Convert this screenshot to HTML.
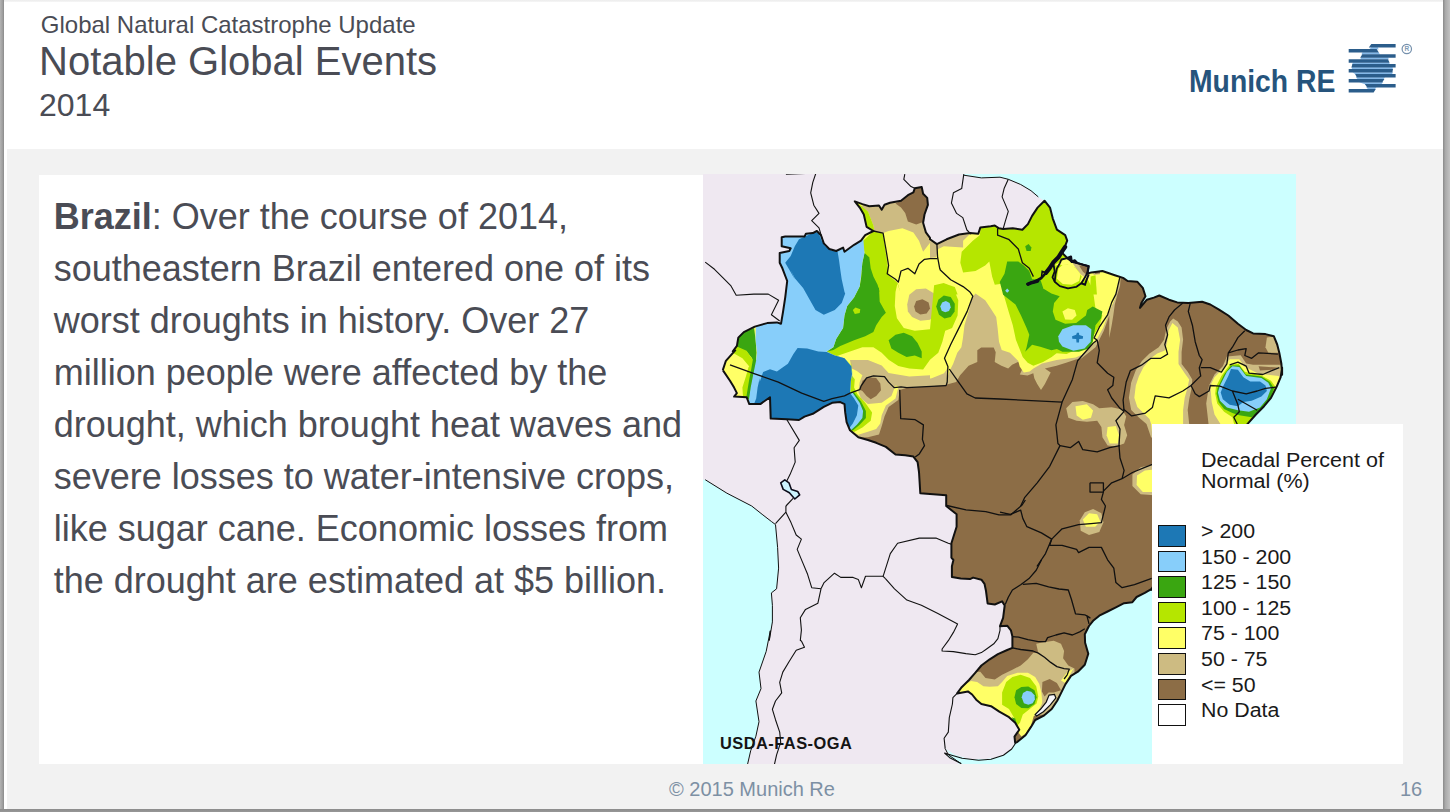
<!DOCTYPE html>
<html><head><meta charset="utf-8"><title>Notable Global Events</title>
<style>
html,body{margin:0;padding:0}
body{width:1450px;height:812px;overflow:hidden;position:relative;background:#fff;font-family:"Liberation Sans",sans-serif;color:#4a4c55}
.abs{position:absolute}
#edgeL{left:0;top:0;width:4px;height:812px;background:linear-gradient(90deg,#b4b4b4,#9c9c9c 70%,#8a8a8a)}
#edgeR{left:1443px;top:0;width:7px;height:812px;background:linear-gradient(90deg,#8a8a8a,#aaa 35%,#c2c2c2)}
#edgeB{left:0;top:809px;width:1450px;height:3px;background:linear-gradient(180deg,#8c8c8c,#979797)}
#edgeT{left:4px;top:0;width:1439px;height:2px;background:linear-gradient(180deg,#ececec,#f6f6f6)}
#panel{left:7px;top:149px;width:1435.5px;height:659.6px;background:#f2f2f2}
#t1{left:40.8px;top:10.7px;font-size:24px;line-height:28px;white-space:nowrap}
#t2{left:39.1px;top:38px;font-size:40px;line-height:46px;white-space:nowrap}
#t3{left:39px;top:86.5px;font-size:32px;line-height:36px;white-space:nowrap}
#box{left:39px;top:175px;width:664px;height:589px;background:#fff}
#body{left:53.7px;top:191px;width:650px;font-size:36px;line-height:52px;white-space:nowrap}
#map{left:703px;top:174px;width:593px;height:590px;overflow:hidden;background:#efe8f1}
#legend{left:1151.5px;top:424px;width:251.5px;height:340px;background:#fff;color:#1a1a1a}
#legend .ttl{position:absolute;left:49.5px;top:25.8px;font-size:19.5px;line-height:21.2px;white-space:nowrap;transform-origin:0 0;transform:scaleX(1.103)}
#legend .sw{position:absolute;left:6px;width:26px;height:19.5px;border:1.3px solid #111}
#legend .lb{position:absolute;left:49.5px;font-size:19.5px;line-height:22px;white-space:nowrap;transform-origin:0 0;transform:scaleX(1.095)}
#foot{left:669px;top:777px;font-size:20px;line-height:24px;color:#7d90a4;white-space:nowrap}
#pg{left:1400px;top:777px;font-size:20px;line-height:24px;color:#7d90a4;white-space:nowrap}
#logo{left:1188.8px;top:64.3px;font-size:31.3px;line-height:36px;font-weight:bold;color:#26547c;white-space:nowrap;transform-origin:0 0;transform:scaleX(.905)}
</style></head><body>
<div class="abs" id="panel"></div>
<div class="abs" id="edgeT"></div>
<div class="abs" id="edgeL"></div>
<div class="abs" id="edgeR"></div>
<div class="abs" id="edgeB"></div>
<div class="abs" id="t1">Global Natural Catastrophe Update</div>
<div class="abs" id="t2">Notable Global Events</div>
<div class="abs" id="t3">2014</div>
<div class="abs" id="logo">Munich RE</div>
<svg class="abs" style="left:1340px;top:36px" width="80" height="64" viewBox="0 0 80 64">
<defs><clipPath id="lc"><circle cx="32.3" cy="32.3" r="24.2"/></clipPath></defs>
<g fill="#84b8e8">
<path d="M31.5 11.2H37.8L38.6 13.4H29z"/>
<path d="M22.5 16.3H38.6L40 18.6H21.3z"/>
<path d="M21.3 21.5H48L48.9 23.5H20z"/>
<path d="M13 26.4H48.9L50 28.4H11.8z"/>
<path d="M11.8 31.3H52.6L52.8 33.4H11.8z"/>
<path d="M12.4 36.3H52.8L52 38.4H15.8z"/>
<path d="M15.8 41.3H45L43.3 43.4H18z"/>
<path d="M19 46.3H43.3L41 48.4H26z"/>
<path d="M26 51.3H36.5L34.7 53.4H28.5z"/>
</g>
<g fill="#2b5d8b">
<path d="M31.3 8.1H55.6V11.6H28.8z"/>
<path d="M8.7 13.1H36.6L38.8 16.6H8.7z"/>
<path d="M22.3 18.3H55.6V21.8H20.2z"/>
<path d="M8.7 23.2H48L49.6 26.7H8.7z"/>
<path d="M12.4 28.1H55.6V31.6H11.4z"/>
<path d="M8.7 33.1H53L52.4 36.6H8.7z"/>
<path d="M15.2 38.1H55.6V41.6H16.8z"/>
<path d="M8.7 43.1H44.4L42.2 46.6H8.7z"/>
<path d="M24.8 48.1H55.6V51.6H27.2z"/>
<path d="M8.7 53.1H35.8L33.6 56.6H8.7z"/>
</g>
<circle cx="66.8" cy="13" r="4.7" fill="none" stroke="#7590ac" stroke-width="1.2"/>
<text x="66.8" y="15.4" font-size="6.5" font-weight="bold" text-anchor="middle" fill="#7f9bb5" font-family="Liberation Sans, sans-serif">R</text>
</svg>
<div class="abs" id="box"></div>
<div class="abs" id="body"><b>Brazil</b>: Over the course of 2014,<br>southeastern Brazil entered one of its<br>worst droughts in history. Over 27<br>million people were affected by the<br>drought, which brought heat waves and<br>severe losses to water-intensive crops,<br>like sugar cane. Economic losses from<br>the drought are estimated at $5 billion.</div>
<div class="abs" id="map"><svg width="593" height="590" viewBox="0 0 593 590" style="display:block">
<defs><clipPath id="brc"><path d="M19.8 196.1 L22.9 186.8 L32.2 176.4 L29.8 177.4 L33.9 171.9 L35.3 163.6 L40.8 158.1 L51.8 152.6 L64.2 149.1 L73.9 148.4 L78.0 149.8 L80.1 137.4 L82.2 123.6 L84.2 107.0 L79.4 94.3 L76.7 88.8 L76.7 79.1 L86.3 77.0 L87.7 74.3 L78.7 72.2 L78.7 63.2 L82.2 62.6 L101.5 62.6 L102.9 59.8 L109.8 59.1 L113.9 57.0 L118.0 61.2 L120.8 69.4 L126.3 75.0 L133.2 77.0 L140.1 73.6 L141.5 77.7 L151.1 70.8 L158.0 66.7 L162.2 61.2 L170.4 57.0 L163.6 52.9 L160.8 40.5 L156.7 33.6 L151.8 27.4 L159.4 30.1 L166.3 32.2 L176.0 31.5 L178.7 35.7 L181.5 30.8 L187.0 28.8 L198.0 26.7 L204.9 21.2 L210.4 18.4 L211.8 14.3 L218.7 12.9 L220.1 19.8 L224.2 23.9 L224.9 30.8 L221.5 40.5 L220.1 48.8 L222.9 58.4 L227.0 63.9 L227.0 65.3 L233.9 70.1 L243.6 65.3 L256.0 60.5 L267.0 59.1 L275.3 59.8 L277.3 53.6 L287.7 52.2 L291.8 51.5 L296.0 54.3 L300.1 55.0 L309.8 54.3 L319.4 55.7 L324.9 50.1 L329.1 41.9 L334.6 33.6 L341.5 26.7 L347.0 33.6 L349.8 44.6 L353.9 55.7 L362.2 61.2 L364.2 66.7 L359.4 79.1 L364.9 84.6 L373.2 88.8 L385.6 92.2 L384.2 99.8 L388.4 98.4 L399.4 97.0 L411.8 101.2 L420.1 103.9 L424.6 107.0 L434.2 107.7 L439.8 113.9 L442.5 122.2 L438.4 129.1 L437.0 133.9 L443.9 125.7 L450.8 123.6 L456.3 121.5 L466.0 125.7 L474.2 128.4 L485.3 129.1 L499.1 127.7 L507.3 130.5 L515.6 135.3 L525.3 141.5 L534.9 149.8 L543.2 156.0 L550.1 159.4 L562.5 160.1 L570.8 162.2 L574.2 170.5 L576.3 178.8 L578.4 189.8 L579.1 200.8 L579.1 193.6 L577.7 203.2 L573.6 212.9 L568.0 223.9 L561.1 232.2 L552.9 240.5 L544.6 249.9 L512.0 296.0 L477.0 366.0 L448.0 416.0 L448.7 414.8 L441.8 418.9 L433.6 423.0 L429.4 428.2 L421.1 429.2 L412.9 433.4 L404.6 437.5 L396.3 441.7 L390.1 446.8 L386.0 452.0 L381.8 460.3 L382.1 468.8 L385.3 479.8 L381.8 490.8 L374.9 497.7 L368.0 501.9 L362.5 510.1 L358.4 518.4 L354.2 526.7 L348.7 535.0 L340.4 541.9 L332.2 546.0 L328.0 552.9 L322.5 561.2 L314.2 568.1 L312.2 568.8 L311.5 562.6 L316.3 555.7 L312.2 548.8 L306.0 543.2 L296.3 537.7 L288.0 532.2 L278.4 530.0 L273.2 525.7 L269.1 520.5 L264.9 517.4 L254.1 519.4 L258.7 513.2 L266.0 506.0 L272.2 498.8 L278.4 491.5 L286.7 485.3 L294.9 480.1 L304.2 476.0 L309.4 473.9 L309.4 462.6 L307.9 456.3 L304.2 451.7 L297.0 452.2 L300.1 443.9 L301.7 431.5 L299.1 427.4 L291.8 430.5 L284.6 429.4 L283.0 417.0 L281.5 409.8 L278.4 405.7 L270.1 403.6 L267.0 405.1 L257.7 404.6 L248.9 403.1 L248.9 392.2 L250.4 386.0 L248.4 383.7 L248.4 369.2 L253.6 352.7 L253.6 340.3 L243.2 332.0 L243.2 321.2 L217.3 319.2 L216.0 298.0 L214.6 288.1 L210.4 282.6 L202.2 281.2 L192.5 280.5 L182.9 272.9 L173.2 268.8 L164.9 266.0 L155.3 263.2 L147.0 256.3 L143.6 248.1 L142.2 238.4 L141.5 230.1 L137.3 228.1 L129.1 228.8 L120.8 232.9 L109.8 239.8 L101.5 242.6 L96.0 246.0 L83.6 245.3 L67.7 244.6 L67.0 223.2 L57.3 230.1 L46.3 230.1 L43.6 223.2 L31.1 222.6 L33.9 219.1 L31.1 213.6 L27.0 206.7 Z"/></clipPath></defs>
<rect width="593" height="590" fill="#efe8f1"/>
<path d="M260.8 -1.0 L260.8 0.5 L260.8 1.2 L278.4 3.9 L297.0 3.2 L305.3 5.3 L317.7 10.5 L328.0 16.7 L335.3 22.9 L341.5 26.7 L347.0 33.6 L349.8 44.6 L353.9 55.7 L362.2 61.2 L364.2 66.7 L359.4 79.1 L364.9 84.6 L373.2 88.8 L385.6 92.2 L384.2 99.8 L388.4 98.4 L399.4 97.0 L411.8 101.2 L420.1 103.9 L424.6 107.0 L434.2 107.7 L439.8 113.9 L442.5 122.2 L438.4 129.1 L437.0 133.9 L443.9 125.7 L450.8 123.6 L456.3 121.5 L466.0 125.7 L474.2 128.4 L485.3 129.1 L499.1 127.7 L507.3 130.5 L515.6 135.3 L525.3 141.5 L534.9 149.8 L543.2 156.0 L550.1 159.4 L562.5 160.1 L570.8 162.2 L574.2 170.5 L576.3 178.8 L578.4 189.8 L579.1 200.8 L579.1 193.6 L577.7 203.2 L573.6 212.9 L568.0 223.9 L561.1 232.2 L552.9 240.5 L544.6 249.9 L512.0 296.0 L477.0 366.0 L448.0 416.0 L448.7 414.8 L441.8 418.9 L433.6 423.0 L429.4 428.2 L421.1 429.2 L412.9 433.4 L404.6 437.5 L396.3 441.7 L390.1 446.8 L386.0 452.0 L381.8 460.3 L382.1 468.8 L385.3 479.8 L381.8 490.8 L374.9 497.7 L368.0 501.9 L362.5 510.1 L358.4 518.4 L354.2 526.7 L348.7 535.0 L340.4 541.9 L332.2 546.0 L328.0 552.9 L322.5 561.2 L314.2 568.1 L312.2 568.8 L307.7 576.0 L300.4 581.2 L288.0 585.3 L275.6 586.3 L259.1 584.3 L248.7 581.2 L241.5 579.1 L246.7 583.7 L258.0 589.4 L258.0 591.0 L597.0 591.0 L597.0 -1.0 Z" fill="#ccffff"/>
<path d="M2.2 305.7 L23.9 319.2 L48.7 332.0 L48.7 332.0 L59.1 340.3 L68.4 347.5 L72.5 350.6 L74.6 373.4 L75.6 394.1 L73.6 414.8 L68.4 418.9 L69.4 431.3 L69.4 447.9 L66.3 466.5 L67.3 456.7 L63.2 477.4 L56.0 498.1 L58.0 514.6 L52.9 527.0 L56.0 547.7 L52.9 562.2 L47.7 576.7 L44.6 590.1 L-3.0 591.0 L-3.0 306.0 Z" fill="#ccffff"/>
<path d="M242.2 574.6 L251.5 580.8 L266.0 585.0 L282.5 585.0 L297.0 582.9 L307.3 580.8 L307.3 593.2 L258.7 593.2 Z" fill="#ccffff"/>
<path d="M19.8 196.1 L22.9 186.8 L32.2 176.4 L29.8 177.4 L33.9 171.9 L35.3 163.6 L40.8 158.1 L51.8 152.6 L64.2 149.1 L73.9 148.4 L78.0 149.8 L80.1 137.4 L82.2 123.6 L84.2 107.0 L79.4 94.3 L76.7 88.8 L76.7 79.1 L86.3 77.0 L87.7 74.3 L78.7 72.2 L78.7 63.2 L82.2 62.6 L101.5 62.6 L102.9 59.8 L109.8 59.1 L113.9 57.0 L118.0 61.2 L120.8 69.4 L126.3 75.0 L133.2 77.0 L140.1 73.6 L141.5 77.7 L151.1 70.8 L158.0 66.7 L162.2 61.2 L170.4 57.0 L163.6 52.9 L160.8 40.5 L156.7 33.6 L151.8 27.4 L159.4 30.1 L166.3 32.2 L176.0 31.5 L178.7 35.7 L181.5 30.8 L187.0 28.8 L198.0 26.7 L204.9 21.2 L210.4 18.4 L211.8 14.3 L218.7 12.9 L220.1 19.8 L224.2 23.9 L224.9 30.8 L221.5 40.5 L220.1 48.8 L222.9 58.4 L227.0 63.9 L227.0 65.3 L233.9 70.1 L243.6 65.3 L256.0 60.5 L267.0 59.1 L275.3 59.8 L277.3 53.6 L287.7 52.2 L291.8 51.5 L296.0 54.3 L300.1 55.0 L309.8 54.3 L319.4 55.7 L324.9 50.1 L329.1 41.9 L334.6 33.6 L341.5 26.7 L347.0 33.6 L349.8 44.6 L353.9 55.7 L362.2 61.2 L364.2 66.7 L359.4 79.1 L364.9 84.6 L373.2 88.8 L385.6 92.2 L384.2 99.8 L388.4 98.4 L399.4 97.0 L411.8 101.2 L420.1 103.9 L424.6 107.0 L434.2 107.7 L439.8 113.9 L442.5 122.2 L438.4 129.1 L437.0 133.9 L443.9 125.7 L450.8 123.6 L456.3 121.5 L466.0 125.7 L474.2 128.4 L485.3 129.1 L499.1 127.7 L507.3 130.5 L515.6 135.3 L525.3 141.5 L534.9 149.8 L543.2 156.0 L550.1 159.4 L562.5 160.1 L570.8 162.2 L574.2 170.5 L576.3 178.8 L578.4 189.8 L579.1 200.8 L579.1 193.6 L577.7 203.2 L573.6 212.9 L568.0 223.9 L561.1 232.2 L552.9 240.5 L544.6 249.9 L512.0 296.0 L477.0 366.0 L448.0 416.0 L448.7 414.8 L441.8 418.9 L433.6 423.0 L429.4 428.2 L421.1 429.2 L412.9 433.4 L404.6 437.5 L396.3 441.7 L390.1 446.8 L386.0 452.0 L381.8 460.3 L382.1 468.8 L385.3 479.8 L381.8 490.8 L374.9 497.7 L368.0 501.9 L362.5 510.1 L358.4 518.4 L354.2 526.7 L348.7 535.0 L340.4 541.9 L332.2 546.0 L328.0 552.9 L322.5 561.2 L314.2 568.1 L312.2 568.8 L311.5 562.6 L316.3 555.7 L312.2 548.8 L306.0 543.2 L296.3 537.7 L288.0 532.2 L278.4 530.0 L273.2 525.7 L269.1 520.5 L264.9 517.4 L254.1 519.4 L258.7 513.2 L266.0 506.0 L272.2 498.8 L278.4 491.5 L286.7 485.3 L294.9 480.1 L304.2 476.0 L309.4 473.9 L309.4 462.6 L307.9 456.3 L304.2 451.7 L297.0 452.2 L300.1 443.9 L301.7 431.5 L299.1 427.4 L291.8 430.5 L284.6 429.4 L283.0 417.0 L281.5 409.8 L278.4 405.7 L270.1 403.6 L267.0 405.1 L257.7 404.6 L248.9 403.1 L248.9 392.2 L250.4 386.0 L248.4 383.7 L248.4 369.2 L253.6 352.7 L253.6 340.3 L243.2 332.0 L243.2 321.2 L217.3 319.2 L216.0 298.0 L214.6 288.1 L210.4 282.6 L202.2 281.2 L192.5 280.5 L182.9 272.9 L173.2 268.8 L164.9 266.0 L155.3 263.2 L147.0 256.3 L143.6 248.1 L142.2 238.4 L141.5 230.1 L137.3 228.1 L129.1 228.8 L120.8 232.9 L109.8 239.8 L101.5 242.6 L96.0 246.0 L83.6 245.3 L67.7 244.6 L67.0 223.2 L57.3 230.1 L46.3 230.1 L43.6 223.2 L31.1 222.6 L33.9 219.1 L31.1 213.6 L27.0 206.7 Z" fill="#8c6d46"/>
<g clip-path="url(#brc)">
<path d="M-3.0 258.0 L-3.0 -14.0 L432.0 -14.0 L429.4 78.8 L417.8 102.6 L417.0 111.9 L414.5 120.1 L411.8 130.5 L410.4 140.8 L408.7 151.2 L406.2 164.0 L406.3 141.5 L400.8 156.7 L392.5 173.2 L378.7 184.3 L372.8 185.4 L363.1 188.8 L353.5 191.7 L341.9 194.6 L347.7 198.5 L345.8 202.3 L341.9 210.1 L338.0 215.9 L334.2 210.1 L331.3 204.3 L330.3 199.2 L324.5 201.4 L316.8 200.4 L318.7 196.6 L319.7 189.8 L314.9 187.9 L309.1 190.8 L305.2 194.6 L298.4 191.7 L291.7 187.9 L292.7 178.2 L290.7 173.4 L278.2 173.4 L274.3 176.3 L274.3 187.9 L265.6 191.7 L256.9 201.4 L253.2 208.0 L241.1 211.2 L224.6 212.6 L203.9 213.7 L196.7 216.1 L195.3 226.0 L185.6 232.9 L181.5 242.6 L178.7 252.2 L176.0 260.5 L164.9 263.2 L156.7 263.5 L147.0 256.6 Z" fill="#cdbb82"/>
<path d="M-3.0 254.0 L-3.0 -14.0 L432.0 -14.0 L429.4 78.8 L416.6 103.2 L415.3 111.9 L412.4 120.1 L412.5 123.6 L406.3 137.4 L400.1 153.9 L391.8 169.1 L378.7 180.8 L372.8 183.6 L353.6 185.9 L339.0 189.4 L330.4 194.6 L326.6 197.5 L320.8 198.5 L316.7 192.6 L315.3 187.0 L307.0 178.8 L298.7 176.0 L296.0 167.7 L294.6 153.9 L293.2 142.9 L287.7 134.6 L282.2 126.3 L272.5 119.4 L269.1 123.6 L265.6 137.4 L261.5 151.2 L259.8 165.0 L258.4 173.2 L254.3 178.8 L250.2 189.8 L247.4 195.3 L244.9 202.2 L243.6 208.0 L245.3 193.0 L241.1 199.2 L228.7 204.3 L216.3 206.4 L203.9 208.5 L195.6 212.6 L192.5 224.6 L182.9 231.5 L178.7 241.2 L177.3 249.4 L173.2 255.0 L164.9 257.7 L155.3 260.8 L146.7 256.1 Z" fill="#ffff66"/>
<path d="M147.0 186.0 L164.9 186.0 L178.7 191.5 L185.6 199.1 L206.3 202.6 L227.0 201.2 L227.0 212.2 L198.0 212.9 L192.5 211.5 L188.4 221.9 L178.7 228.8 L164.9 230.1 L158.0 224.6 L155.3 217.7 L156.7 208.1 L159.4 201.2 L153.9 197.0 L148.4 194.3 Z" fill="#cdbb82"/>
<path d="M156.7 215.7 L159.4 206.7 L164.9 203.2 L173.2 203.9 L177.3 209.4 L178.0 216.3 L173.2 221.9 L167.7 225.3 L163.6 221.9 L159.4 217.0 Z" fill="#8c6d46"/>
<path d="M204.2 130.5 L206.3 120.8 L213.2 115.3 L222.9 114.6 L231.1 119.4 L235.3 129.1 L233.9 138.8 L227.0 145.7 L217.3 146.8 L209.1 142.9 L204.9 137.4 Z" fill="#cdbb82"/>
<path d="M211.1 132.6 L213.2 127.0 L219.4 125.2 L225.6 128.4 L227.0 134.6 L223.6 139.4 L217.3 140.4 L212.5 137.4 Z" fill="#8c6d46"/>
<path d="M156.7 32.2 L227.0 11.5 L229.8 65.3 L220.1 77.7 L216.0 66.7 L210.4 58.4 L199.4 54.3 L185.6 57.0 L180.1 59.1 L171.1 57.3 L170.4 51.5 L164.9 37.7 Z" fill="#cdbb82"/>
<path d="M192.5 29.4 L198.0 26.7 L204.9 20.5 L211.1 13.6 L219.4 12.2 L220.8 19.8 L224.9 23.9 L225.6 30.8 L221.8 40.5 L220.1 48.1 L213.2 50.4 L204.9 47.4 L202.2 39.1 L198.0 33.6 Z" fill="#8c6d46"/>
<path d="M227.0 63.9 L233.9 70.8 L243.6 65.6 L256.0 60.8 L267.0 60.1 L260.1 66.7 L260.1 73.6 L240.8 72.2 L235.3 75.0 L233.2 83.2 L227.0 83.9 Z" fill="#cdbb82"/>
<path d="M368.7 87.8 L374.6 89.2 L379.8 90.7 L386.1 91.8 L385.3 97.4 L382.0 103.3 L377.6 100.3 L373.1 94.4 Z" fill="#cdbb82"/>
<path d="M376.1 91.5 L381.3 91.5 L385.7 92.3 L385.1 96.6 L382.7 100.3 L379.8 97.4 Z" fill="#8c6d46"/>
<path d="M389.4 98.1 L397.0 95.9 L397.0 100.3 L390.9 101.1 Z" fill="#cdbb82"/>
<path d="M391.6 98.5 L397.0 96.6 L397.0 99.2 L392.3 100.0 Z" fill="#8c6d46"/>
<path d="M160.1 66.7 L170.4 57.3 L180.1 59.5 L182.2 75.0 L184.2 88.8 L185.6 101.2 L193.9 108.3 L197.3 118.0 L194.6 108.4 L192.5 118.1 L191.8 131.9 L193.9 144.3 L200.8 153.9 L211.8 156.7 L227.0 155.3 L231.1 111.2 L240.8 109.1 L250.4 113.9 L255.3 126.3 L254.6 141.5 L249.1 153.9 L242.2 156.7 L239.4 167.7 L235.3 178.8 L227.0 185.7 L220.1 195.6 L206.3 194.6 L195.3 191.9 L185.6 185.7 L178.7 178.8 L170.4 173.2 L159.4 173.2 L145.6 178.1 L133.2 182.2 L151.8 205.3 L151.1 213.6 L154.6 220.5 L162.2 228.8 L169.1 238.4 L167.7 246.7 L159.4 253.6 L151.1 258.0 L146.7 255.7 L142.9 246.7 L142.2 231.5 L147.0 219.1 L147.7 208.1 L149.1 197.0 L148.4 186.0 L149.1 192.6 L141.5 184.3 L131.8 181.5 L123.6 178.1 L130.4 173.2 L133.2 165.0 L140.1 153.9 L141.5 141.5 L144.2 131.9 L151.1 123.6 L156.7 112.6 L159.4 96.0 L158.0 102.6 L159.4 88.8 L161.5 79.1 L160.1 70.8 Z" fill="#b5e600"/>
<path d="M151.8 26.7 L164.9 37.4 L170.4 51.5 L171.3 57.3 L162.9 53.6 L160.1 40.5 L156.0 33.6 Z" fill="#b5e600"/>
<path d="M257.3 88.8 L258.7 77.7 L269.8 66.7 L276.7 61.2 L277.8 53.6 L291.8 51.2 L309.8 53.6 L319.4 55.0 L341.5 26.0 L348.4 33.6 L364.9 61.2 L364.9 83.2 L351.1 91.5 L364.9 90.8 L373.2 94.3 L378.7 102.6 L376.0 110.8 L364.9 115.0 L384.2 104.3 L389.8 115.3 L392.5 134.6 L399.4 141.5 L396.7 151.2 L388.4 165.0 L378.7 173.2 L363.6 179.9 L353.6 179.2 L348.7 183.0 L340.1 187.9 L330.4 191.7 L324.7 188.8 L319.7 183.0 L316.7 175.3 L312.9 165.7 L309.8 151.2 L305.6 137.4 L301.5 123.6 L298.7 109.8 L291.8 110.8 L289.1 102.6 L286.3 87.4 L282.2 91.5 L272.5 97.0 L260.1 98.4 Z" fill="#b5e600"/>
<path d="M233.9 112.2 L242.2 109.7 L251.8 112.9 L254.6 120.5 L232.5 120.5 Z" fill="#b5e600"/>
<path d="M387.7 102.6 L392.5 101.2 L393.9 120.5 L387.0 120.5 Z" fill="#b5e600"/>
<path d="M355.4 94.4 L359.8 90.7 L367.2 90.7 L373.1 94.4 L377.6 100.3 L376.1 107.0 L368.7 110.7 L359.8 109.9 L353.9 104.8 Z" fill="#ffff66"/>
<path d="M161.5 79.1 L166.3 83.2 L167.7 94.3 L170.4 102.6 L174.6 110.8 L176.7 118.0 L169.1 107.0 L176.0 113.9 L176.7 127.7 L182.9 138.8 L178.7 142.9 L173.2 151.2 L170.4 158.1 L162.2 162.2 L151.1 166.3 L137.3 171.9 L130.4 176.0 L123.6 177.7 L130.4 173.2 L133.2 165.0 L140.1 153.9 L141.5 141.5 L144.2 131.9 L151.1 123.6 L156.7 112.6 L159.4 96.0 L158.0 102.6 L159.4 88.8 Z" fill="#3aa611"/>
<path d="M149.8 136.0 L152.5 133.5 L157.3 135.3 L156.7 139.0 L151.8 139.9 Z" fill="#b5e600"/>
<path d="M185.6 166.3 L192.5 160.8 L200.8 158.8 L209.1 162.2 L214.6 169.1 L218.7 177.4 L218.7 184.3 L211.8 181.5 L203.6 182.9 L195.3 178.8 L188.4 174.6 Z" fill="#3aa611"/>
<path d="M35.3 163.6 L40.8 158.1 L51.1 153.9 L52.5 165.0 L53.5 178.8 L52.5 192.6 L51.1 199.4 L49.1 184.3 L43.6 177.4 L33.9 173.2 Z" fill="#3aa611"/>
<path d="M29.8 178.8 L33.9 172.6 L43.6 176.7 L49.8 185.7 L51.6 192.6 L51.1 186.0 L49.1 199.8 L46.3 213.6 L44.9 226.0 L40.1 224.6 L39.4 213.6 L42.9 202.6 L45.6 192.9 L46.3 192.6 L39.4 184.3 Z" fill="#b5e600"/>
<path d="M49.8 186.0 L53.9 186.0 L51.1 199.8 L48.4 213.6 L46.3 226.0 L43.3 223.2 L46.0 206.7 L48.4 194.3 Z" fill="#3aa611"/>
<path d="M71.1 149.1 L78.3 150.1 L79.1 153.9 L74.6 156.0 L70.9 153.2 Z" fill="#3aa611"/>
<path d="M233.2 132.6 L235.3 125.7 L240.8 121.5 L247.7 122.9 L251.8 129.8 L251.6 137.4 L247.7 142.9 L241.5 144.6 L236.0 140.8 Z" fill="#3aa611"/>
<path d="M304.2 87.4 L315.3 87.4 L320.8 91.5 L326.3 97.0 L329.1 105.3 L337.3 105.3 L341.5 118.0 L327.7 107.0 L334.6 112.6 L341.5 115.3 L348.4 119.4 L356.7 122.2 L351.1 129.1 L349.8 137.4 L352.5 145.7 L362.2 149.8 L373.2 149.1 L382.9 141.5 L384.2 136.0 L389.8 132.6 L399.4 137.4 L398.0 144.3 L392.5 151.2 L389.8 167.7 L385.6 174.6 L376.0 177.7 L359.4 177.7 L353.9 174.9 L348.4 176.3 L337.3 172.8 L329.1 170.8 L322.2 177.7 L323.6 173.2 L326.3 160.8 L323.6 153.9 L318.0 141.5 L312.5 130.5 L300.1 120.8 L297.3 109.8 L296.7 108.1 L301.5 99.8 Z" fill="#3aa611"/>
<path d="M322.2 72.2 L325.6 70.1 L328.4 73.6 L327.7 77.0 L323.6 77.0 Z" fill="#3aa611"/>
<path d="M359.4 137.4 L364.9 134.3 L371.8 136.0 L373.5 141.5 L369.1 145.7 L362.2 145.4 Z" fill="#ffff66"/>
<path d="M304.2 114.6 L306.3 116.7 L304.2 118.8 L302.2 116.7 Z" fill="#87cefa"/>
<path d="M147.3 218.4 L151.1 218.4 L158.0 227.4 L162.9 237.0 L162.9 243.9 L156.7 250.8 L149.8 256.6 L145.6 255.0 Z" fill="#3aa611"/>
<path d="M73.9 120.5 L73.9 79.1 L75.3 61.2 L104.2 58.4 L115.3 54.3 L123.6 68.1 L131.8 74.3 L141.5 72.2 L151.1 66.7 L160.1 62.6 L161.5 79.1 L159.4 88.8 L158.0 102.6 L156.7 112.6 L151.1 123.6 L144.2 131.9 L141.5 141.5 L140.1 153.9 L133.2 165.0 L130.4 173.2 L123.6 177.4 L131.8 181.5 L141.5 184.3 L148.4 192.6 L149.1 208.0 L149.1 197.0 L147.7 208.1 L147.3 219.1 L149.8 219.1 L156.7 228.8 L160.1 237.0 L159.4 243.9 L153.9 250.8 L148.4 255.7 L144.2 255.0 L140.8 246.7 L140.1 231.5 L129.1 231.5 L101.5 246.7 L67.0 248.1 L65.6 227.4 L57.3 232.9 L44.9 231.5 L46.3 223.2 L47.7 213.6 L50.4 199.8 L53.2 186.0 L52.5 192.6 L53.9 178.8 L52.5 165.0 L52.9 149.8 L74.6 145.7 L78.3 147.0 Z" fill="#87cefa"/>
<path d="M237.3 132.6 L239.1 128.4 L242.9 127.0 L246.6 129.1 L247.7 133.2 L246.0 137.1 L242.2 138.2 L238.7 136.7 Z" fill="#87cefa"/>
<path d="M355.3 162.2 L359.4 155.3 L370.4 151.2 L382.9 151.2 L388.4 155.3 L387.7 167.7 L381.5 174.6 L370.4 176.7 L359.4 172.6 L356.0 167.7 Z" fill="#87cefa"/>
<path d="M96.0 65.3 L109.8 59.1 L115.3 58.4 L118.7 66.7 L122.2 72.2 L127.7 76.3 L134.6 77.7 L136.0 86.0 L137.3 95.7 L138.7 105.3 L141.5 118.0 L142.2 119.4 L138.7 129.1 L131.8 136.0 L120.8 140.8 L112.5 136.0 L107.0 126.3 L100.1 113.9 L91.8 104.3 L87.7 96.0 L91.8 105.3 L86.3 95.7 L82.2 88.8 L87.7 81.9 L91.8 72.2 Z" fill="#1d78b5"/>
<path d="M56.7 208.0 L60.1 198.1 L67.0 195.3 L73.9 197.4 L84.9 189.8 L90.4 180.1 L94.6 173.9 L104.2 174.6 L115.3 177.4 L123.6 178.1 L131.8 181.5 L141.5 184.3 L148.4 192.6 L149.1 208.0 L149.1 197.0 L147.7 208.1 L147.0 219.1 L151.1 224.6 L155.3 231.5 L153.9 241.2 L149.8 249.4 L145.6 255.0 L141.5 248.1 L140.1 231.5 L129.1 231.5 L101.5 246.7 L67.0 248.1 L65.6 227.4 L57.3 232.9 L50.4 231.5 L53.2 224.6 L54.6 213.6 L56.7 203.9 Z" fill="#1d78b5"/>
<path d="M369.1 162.2 L373.2 160.8 L373.9 158.8 L376.0 158.8 L376.2 161.1 L380.1 162.2 L379.8 164.7 L376.2 165.0 L376.0 168.4 L373.5 168.4 L373.2 165.0 L369.3 164.7 Z" fill="#1d78b5"/>
<path d="M470.2 144.6 L474.8 147.4 L478.6 153.5 L480.1 165.7 L478.6 177.9 L478.6 190.1 L484.7 197.8 L489.3 205.4 L488.5 214.5 L486.2 225.2 L484.7 235.9 L486.2 250.0 L487.8 263.4 L448.1 263.4 L443.5 250.0 L435.9 243.6 L428.2 235.9 L425.9 223.7 L428.2 208.4 L432.8 196.2 L438.9 187.1 L446.5 179.4 L455.7 173.3 L461.0 165.7 L463.3 155.0 L467.2 147.4 Z" fill="#cdbb82"/>
<path d="M469.4 148.9 L474.8 153.5 L477.1 165.7 L475.5 177.9 L475.5 190.1 L481.7 199.3 L486.2 205.4 L484.7 213.0 L481.7 223.7 L480.1 235.9 L480.1 250.0 L480.9 263.4 L449.6 263.4 L448.1 250.0 L446.5 245.1 L440.4 239.0 L434.3 232.9 L431.3 223.7 L432.8 211.5 L435.9 202.3 L440.4 193.2 L448.1 184.0 L454.2 179.4 L461.8 176.4 L464.1 168.7 L465.6 156.5 Z" fill="#ffff66"/>
<path d="M503.2 229.4 L506.0 211.5 L511.5 200.5 L519.8 192.2 L523.9 182.6 L537.7 181.2 L543.2 189.4 L550.1 190.8 L577.7 190.8 L580.4 207.4 L569.4 225.3 L555.6 243.2 L544.6 254.3 L506.0 254.3 Z" fill="#cdbb82"/>
<path d="M555.6 192.2 L574.9 193.6 L569.4 195.7 L557.0 196.6 Z" fill="#8c6d46"/>
<path d="M507.3 211.5 L511.5 203.2 L521.1 193.6 L526.7 185.3 L536.3 185.3 L541.1 192.2 L546.0 195.0 L555.6 199.8 L562.5 200.5 L575.6 202.1 L580.4 207.4 L569.4 225.3 L555.6 243.2 L544.6 254.3 L518.4 251.5 L511.5 240.5 L508.7 228.1 Z" fill="#ffff66"/>
<path d="M512.9 212.9 L518.4 201.9 L526.7 190.8 L535.6 189.7 L541.8 197.7 L558.4 201.6 L568.0 206.7 L572.9 213.6 L568.0 225.3 L558.4 237.7 L547.3 247.4 L543.2 254.3 L532.2 254.3 L529.4 243.2 L521.1 237.7 L514.2 229.4 L512.2 219.8 Z" fill="#b5e600"/>
<path d="M514.5 214.3 L521.1 200.5 L528.0 191.5 L536.3 191.5 L542.9 200.5 L558.4 202.6 L566.9 208.1 L571.1 214.3 L566.7 226.0 L558.4 235.7 L548.7 243.2 L536.3 241.2 L529.4 239.1 L521.1 235.0 L515.6 228.1 L513.6 219.8 Z" fill="#3aa611"/>
<path d="M534.9 243.2 L547.3 247.4 L543.2 254.3 L533.6 254.3 L530.8 245.3 Z" fill="#b5e600"/>
<path d="M517.0 211.5 L523.9 197.7 L529.4 192.2 L536.3 192.9 L543.2 201.9 L558.4 203.9 L565.3 208.8 L568.0 214.3 L563.9 225.3 L557.0 233.6 L546.0 237.7 L534.9 236.3 L523.9 233.6 L517.0 226.7 L514.9 218.4 Z" fill="#87cefa"/>
<path d="M519.8 212.9 L525.3 201.9 L528.0 195.0 L534.9 195.7 L540.4 203.2 L547.3 207.4 L557.0 207.4 L562.5 211.5 L563.9 217.0 L558.4 222.6 L548.7 226.7 L540.4 228.1 L534.9 232.2 L526.7 230.8 L519.8 225.3 L517.7 218.4 Z" fill="#1d78b5"/>
<path d="M563.9 163.6 L571.1 162.5 L574.9 171.2 L576.0 178.8 L565.3 178.8 L562.5 173.2 Z" fill="#cdbb82"/>
<path d="M363.2 234.3 L369.4 228.1 L379.8 227.1 L390.1 230.2 L396.3 234.3 L408.7 233.3 L419.1 235.4 L423.2 242.6 L421.1 250.9 L424.2 261.2 L421.1 269.5 L412.9 272.6 L404.6 271.6 L399.4 263.3 L398.4 253.0 L394.2 246.8 L383.9 247.8 L373.6 246.8 L365.3 243.7 Z" fill="#cdbb82"/>
<path d="M372.5 232.3 L383.9 230.2 L390.1 236.4 L388.0 243.7 L379.8 245.7 L373.6 241.6 Z" fill="#ffff66"/>
<path d="M404.6 253.0 L412.9 251.9 L416.0 261.2 L414.9 269.5 L406.7 269.5 L403.6 261.2 Z" fill="#ffff66"/>
<path d="M429.4 300.6 L437.7 293.3 L451.1 290.2 L451.1 321.2 L437.7 320.2 L429.4 311.9 Z" fill="#cdbb82"/>
<path d="M434.0 301.6 L441.8 296.4 L451.1 295.4 L451.1 318.1 L439.8 318.1 L433.6 310.9 Z" fill="#ffff66"/>
<path d="M376.7 346.5 L381.8 338.2 L390.1 335.1 L398.4 339.2 L400.4 348.6 L396.3 357.9 L386.0 361.0 L377.7 356.8 Z" fill="#cdbb82"/>
<path d="M379.8 345.4 L386.0 339.2 L394.2 340.3 L397.3 347.5 L392.2 352.7 L382.9 352.7 Z" fill="#ffff66"/>
<path d="M247.3 524.6 L272.2 497.7 L277.3 497.7 L282.5 503.9 L291.8 505.5 L299.1 500.8 L309.4 495.7 L317.7 491.5 L324.9 485.3 L330.1 479.1 L335.3 479.1 L333.2 469.8 L340.4 468.2 L350.8 466.7 L358.0 469.8 L361.1 477.0 L360.1 484.3 L365.3 491.5 L371.5 494.6 L371.5 503.9 L350.8 539.1 L278.4 549.4 Z" fill="#cdbb82"/>
<path d="M339.4 508.1 L346.7 505.0 L353.9 509.1 L358.0 516.3 L350.8 518.4 L345.6 518.4 L341.5 522.6 L338.9 517.4 Z" fill="#8c6d46"/>
<path d="M247.3 524.6 L254.1 518.4 L260.8 511.2 L268.0 507.0 L274.2 508.1 L280.4 512.2 L286.7 512.7 L294.9 512.2 L299.1 508.1 L304.2 501.9 L314.6 498.8 L324.9 498.8 L332.2 502.9 L336.3 510.1 L338.4 518.4 L339.4 530.0 L339.1 521.2 L339.1 529.4 L336.3 535.0 L330.8 541.9 L328.0 551.5 L322.5 559.8 L318.4 562.6 L314.2 557.0 L306.0 562.6 L278.4 548.8 Z" fill="#ffff66"/>
<path d="M363.7 498.8 L370.4 494.6 L362.2 509.1 L358.0 506.5 Z" fill="#ffff66"/>
<path d="M299.1 518.4 L303.2 508.1 L309.4 502.9 L317.7 500.8 L327.0 503.9 L333.2 512.2 L335.3 522.6 L333.6 529.4 L326.7 535.0 L319.8 540.5 L317.0 548.8 L314.2 551.5 L311.5 544.6 L306.0 535.0 L299.1 530.8 Z" fill="#b5e600"/>
<path d="M311.5 523.2 L313.1 516.3 L318.4 512.9 L325.3 512.6 L331.5 516.3 L333.6 523.2 L331.5 530.1 L325.3 534.3 L318.4 533.9 L313.1 530.1 Z" fill="#3aa611"/>
<path d="M308.7 543.2 L312.2 544.6 L314.2 551.5 L311.5 548.8 Z" fill="#3aa611"/>
<path d="M318.7 523.2 L320.0 519.1 L323.9 516.8 L328.3 517.7 L331.5 521.2 L331.9 525.3 L329.7 529.2 L325.3 530.8 L320.9 529.2 Z" fill="#87cefa"/>
<path d="M170.4 57.0 L180.1 59.1 L182.9 75.0 L185.6 91.5 L184.2 99.8 L192.5 105.3 L195.3 108.1 L198.0 97.0 L204.9 94.3 L211.8 99.8 L216.0 90.1 L221.5 85.3 L227.0 84.6 L234.6 84.6" fill="none" stroke="#111" stroke-width="1.3" stroke-linejoin="round"/>
<path d="M233.9 70.1 L234.6 83.2 L236.7 94.3 L237.3 96.0 L247.7 105.7 L260.1 112.6 L267.0 118.1 L269.8 122.2 L264.2 137.4 L256.0 153.9 L247.7 170.5 L241.5 184.3 L244.9 192.6 L244.2 208.0 L243.2 211.6" fill="none" stroke="#111" stroke-width="1.3" stroke-linejoin="round"/>
<path d="M147.0 219.1 L156.7 215.7 L158.0 212.2 L163.6 203.9 L170.4 201.9 L181.5 202.6 L185.6 208.1 L191.1 213.6 L198.0 212.9 L203.9 213.7 L243.2 211.6" fill="none" stroke="#111" stroke-width="1.3" stroke-linejoin="round"/>
<path d="M246.3 195.0 L253.6 205.4 L263.9 219.9 L272.2 224.0 L297.0 225.0 L359.1 228.1" fill="none" stroke="#111" stroke-width="1.3" stroke-linejoin="round"/>
<path d="M196.7 215.7 L197.7 244.7 L212.2 245.7 L220.4 250.9 L219.4 265.4 L221.5 271.6 L216.3 279.9 L212.2 283.0" fill="none" stroke="#111" stroke-width="1.3" stroke-linejoin="round"/>
<path d="M27.0 190.8 L51.8 199.8 L75.3 208.1 L98.7 219.1 L120.8 227.4 L129.1 224.6 L141.5 221.9 L147.0 219.1" fill="none" stroke="#111" stroke-width="1.3" stroke-linejoin="round"/>
<path d="M294.6 54.3 L294.6 61.2 L305.6 65.3 L315.3 75.0 L319.4 88.8 L326.3 94.3 L330.4 102.6" fill="none" stroke="#111" stroke-width="1.3" stroke-linejoin="round"/>
<path d="M417.0 102.6 L412.9 120.1 L408.7 128.4 L404.6 140.8 L396.3 153.2 L391.1 164.0 L394.2 166.1" fill="none" stroke="#111" stroke-width="1.3" stroke-linejoin="round"/>
<path d="M394.2 166.1 L396.3 176.4 L394.2 188.8 L404.6 199.2 L410.8 203.3 L409.8 211.6 L404.6 215.7 L408.7 224.0 L417.0 234.3 L421.1 237.4" fill="none" stroke="#111" stroke-width="1.3" stroke-linejoin="round"/>
<path d="M394.2 166.1 L390.1 169.2 L374.6 186.8 L369.4 205.4 L359.1 228.1 L352.9 250.9 L354.9 269.5 L357.0 271.6 L346.7 292.3 L334.2 308.8 L321.8 323.3 L317.7 332.0" fill="none" stroke="#111" stroke-width="1.3" stroke-linejoin="round"/>
<path d="M357.0 271.6 L367.3 273.7 L375.6 267.4 L379.8 275.7 L394.2 277.8 L406.7 273.7 L417.0 271.6" fill="none" stroke="#111" stroke-width="1.3" stroke-linejoin="round"/>
<path d="M421.1 237.4 L412.9 246.8 L417.0 255.0 L416.0 271.6 L417.0 284.0 L421.1 296.4 L419.1 304.7" fill="none" stroke="#111" stroke-width="1.3" stroke-linejoin="round"/>
<path d="M479.8 129.1 L471.5 136.0 L466.0 142.9 L462.5 151.2 L464.6 160.8 L461.8 170.5 L464.6 180.1 L457.7 184.3 L448.0 184.3 L438.4 191.2 L427.3 196.7 L423.2 208.0 L420.1 226.1 L421.1 237.4" fill="none" stroke="#111" stroke-width="1.3" stroke-linejoin="round"/>
<path d="M487.3 129.1 L485.3 137.4 L489.4 151.2 L492.2 167.7 L496.3 181.5 L499.1 185.7 L496.3 193.9 L497.7 202.2 L496.3 193.6 L497.7 201.9 L488.0 211.5 L479.8 217.0 L466.0 223.9 L452.2 221.9 L449.4 233.6 L442.5 239.1 L428.7 241.9 L420.4 235.0" fill="none" stroke="#111" stroke-width="1.3" stroke-linejoin="round"/>
<path d="M541.8 156.7 L534.9 163.6 L529.4 173.2 L525.3 178.8 L523.9 189.8 L518.4 198.1 L517.0 197.7 L507.3 193.6 L497.7 193.6" fill="none" stroke="#111" stroke-width="1.3" stroke-linejoin="round"/>
<path d="M525.3 178.8 L534.9 176.0 L543.2 174.6 L541.8 181.5 L548.7 184.3 L555.6 178.8 L574.9 180.1" fill="none" stroke="#111" stroke-width="1.3" stroke-linejoin="round"/>
<path d="M526.7 190.8 L534.9 188.1 L543.2 192.2 L546.0 199.1 L559.8 200.5 L569.4 196.3 L576.3 193.6" fill="none" stroke="#111" stroke-width="1.3" stroke-linejoin="round"/>
<path d="M488.0 211.5 L492.2 219.8 L496.3 222.6 L506.0 217.0 L507.3 211.5 L517.0 212.2 L529.4 217.0 L543.2 219.8 L554.2 217.0 L562.5 214.3 L574.9 212.9" fill="none" stroke="#111" stroke-width="1.3" stroke-linejoin="round"/>
<path d="M529.4 217.0 L534.9 230.8 L536.3 237.7 L530.8 243.2 L534.9 251.5" fill="none" stroke="#111" stroke-width="1.3" stroke-linejoin="round"/>
<path d="M534.9 225.3 L554.2 236.3" fill="none" stroke="#111" stroke-width="1.3" stroke-linejoin="round"/>
<path d="M419.1 304.7 L408.7 308.8 L400.4 317.1" fill="none" stroke="#111" stroke-width="1.3" stroke-linejoin="round"/>
<path d="M387.0 308.8 L400.4 308.8 L400.4 318.1 L387.0 318.1 L387.0 308.8" fill="none" stroke="#111" stroke-width="1.3" stroke-linejoin="round"/>
<path d="M400.4 318.1 L398.4 325.4 L402.5 332.0" fill="none" stroke="#111" stroke-width="1.3" stroke-linejoin="round"/>
<path d="M419.1 304.7 L429.4 298.5 L441.8 293.3 L450.1 290.2" fill="none" stroke="#111" stroke-width="1.3" stroke-linejoin="round"/>
<path d="M297.0 338.2 L307.3 340.3 L317.7 336.1 L319.8 344.4 L323.9 352.7 L338.4 358.9 L348.7 365.1" fill="none" stroke="#111" stroke-width="1.3" stroke-linejoin="round"/>
<path d="M348.7 365.1 L359.1 354.8 L375.6 350.6 L388.0 349.6 L398.4 348.6 L400.4 340.3 L402.5 332.0" fill="none" stroke="#111" stroke-width="1.3" stroke-linejoin="round"/>
<path d="M348.7 365.1 L346.7 371.3 L359.1 371.3 L373.6 375.4 L375.6 378.6 L386.0 373.4 L398.4 373.4 L404.6 385.8 L410.8 394.1 L412.9 408.6 L419.1 413.7 L431.5 410.6 L448.7 404.4" fill="none" stroke="#111" stroke-width="1.3" stroke-linejoin="round"/>
<path d="M348.7 365.1 L342.5 379.6 L334.2 392.0 L338.4 386.0" fill="none" stroke="#111" stroke-width="1.3" stroke-linejoin="round"/>
<path d="M309.4 462.6 L315.6 463.1 L324.9 465.7 L335.3 467.7 L342.5 467.7 L344.6 463.6 L352.9 461.0 L361.1 458.9 L369.4 461.0 L376.7 457.9 L381.8 454.8" fill="none" stroke="#111" stroke-width="1.3" stroke-linejoin="round"/>
<path d="M309.4 473.9 L317.7 475.5 L330.1 477.0 L335.3 479.1 L341.5 483.2 L347.7 488.4 L353.9 492.6 L361.1 494.6 L366.3 495.1 L364.2 500.8 L361.1 505.0" fill="none" stroke="#111" stroke-width="1.3" stroke-linejoin="round"/>
<path d="M338.4 386.0 L333.2 396.3 L326.0 404.6 L317.7 410.8 L309.4 416.0 L305.3 423.2 L302.2 430.5" fill="none" stroke="#111" stroke-width="1.3" stroke-linejoin="round"/>
<path d="M319.8 410.3 L333.2 409.3 L345.6 412.9 L356.0 415.0 L365.3 416.0 L368.4 425.3 L372.5 439.8 L381.8 440.8 L387.0 443.9 L383.9 441.7 L386.0 449.9" fill="none" stroke="#111" stroke-width="1.3" stroke-linejoin="round"/>
<path d="M241.6 331.0 L263.0 335.9 L282.8 337.6 L296.0 340.9 L307.6 340.9 L319.1 331.0 L322.4 326.0" fill="none" stroke="#111" stroke-width="1.3" stroke-linejoin="round"/>
</g>
<path d="M346.0 521.2 L351.5 520.5 L352.9 523.9 L347.3 530.8 L340.4 537.7 L333.6 541.9 L332.2 540.5 L337.7 535.0 L343.2 528.1 Z" fill="#f6f6fa" stroke="#111" stroke-width="1.2"/>
<path d="M77.7 308.8 L81.8 305.9 L86.0 308.8 L88.4 315.4 L94.7 317.5 L96.7 320.8 L91.8 325.0 L86.4 318.8 L80.2 315.4 Z" fill="#ccf4ff" stroke="#0c0c1a" stroke-width="1.6" stroke-linejoin="round"/>
<path d="M82.9 0.1 L112.9 -0.9 L109.8 8.4 L107.7 18.8 L110.8 31.2 L116.0 39.4 L108.7 46.7 L116.0 53.9 L119.1 64.3" fill="none" stroke="#111" stroke-width="1.1" stroke-linejoin="round"/>
<path d="M2.2 88.1 L11.5 95.3 L19.8 103.6 L28.0 111.9 L33.2 121.2 L50.8 120.1 L65.3 120.1 L75.6 126.3 L68.4 140.8 L76.7 147.0" fill="none" stroke="#111" stroke-width="1.1" stroke-linejoin="round"/>
<path d="M201.8 0.1 L200.8 5.3 L208.0 12.6 L212.2 14.6" fill="none" stroke="#111" stroke-width="1.1" stroke-linejoin="round"/>
<path d="M260.8 0.1 L258.7 14.6 L250.4 18.8 L248.4 29.1 L253.6 39.4 L259.8 43.6 L263.9 56.0 L268.0 60.1" fill="none" stroke="#111" stroke-width="1.1" stroke-linejoin="round"/>
<path d="M305.3 5.3 L301.1 14.6 L299.1 22.9 L305.3 37.4 L302.2 47.7 L300.1 55.0" fill="none" stroke="#111" stroke-width="1.1" stroke-linejoin="round"/>
<path d="M83.9 245.7 L96.3 266.4 L91.1 273.7 L92.2 288.1 L87.0 300.6 L83.9 306.8" fill="none" stroke="#111" stroke-width="1.1" stroke-linejoin="round"/>
<path d="M90.1 324.3 L82.9 332.0" fill="none" stroke="#111" stroke-width="1.1" stroke-linejoin="round"/>
<path d="M82.9 332.0 L82.9 338.2 L72.5 349.6" fill="none" stroke="#111" stroke-width="1.1" stroke-linejoin="round"/>
<path d="M82.9 338.2 L88.0 348.6 L93.2 361.0 L98.4 365.1 L94.2 375.4 L99.4 387.9 L104.6 400.3 L108.7 413.7 L118.0 414.8" fill="none" stroke="#111" stroke-width="1.1" stroke-linejoin="round"/>
<path d="M118.0 414.8 L121.1 408.6 L131.5 399.2 L137.7 403.4 L150.1 403.4 L155.3 405.4 L158.4 413.7 L162.5 402.3 L180.1 402.3" fill="none" stroke="#111" stroke-width="1.1" stroke-linejoin="round"/>
<path d="M182.2 404.4 L180.1 402.3 L187.3 379.6 L194.6 369.2 L216.3 364.1 L232.9 364.1 L245.3 369.2 L248.4 370.3" fill="none" stroke="#111" stroke-width="1.1" stroke-linejoin="round"/>
<path d="M182.2 404.4 L191.5 414.8 L203.9 426.1 L218.4 431.3 L234.9 439.6 L254.6 449.9 L250.4 458.4 L245.3 466.7 L239.1 475.0 L239.1 477.0 L250.4 477.6 L262.9 479.6 L272.2 480.7 L278.4 478.6 L283.6 475.0 L290.8 469.8 L294.9 464.6 L297.0 456.3 L297.0 452.2" fill="none" stroke="#111" stroke-width="1.1" stroke-linejoin="round"/>
<path d="M118.0 414.8 L114.9 429.2 L102.5 435.4 L97.3 443.7 L98.4 456.1 L97.3 466.5 L98.4 467.0 L101.5 473.2 L93.2 476.3 L86.0 487.7 L79.8 498.1 L76.7 508.4 L78.7 518.8 L72.5 527.0 L69.4 535.3 L72.5 545.7 L76.7 558.1 L77.7 568.4 L73.6 580.8 L71.5 590.1" fill="none" stroke="#111" stroke-width="1.1" stroke-linejoin="round"/>
<path d="M254.1 519.4 L249.9 523.6 L249.4 530.0 L246.3 543.6 L245.3 558.1 L241.1 564.3 L242.2 574.6" fill="none" stroke="#111" stroke-width="1.1" stroke-linejoin="round"/>
<path d="M19.8 196.1 L22.9 186.8 L32.2 176.4 L29.8 177.4 L33.9 171.9 L35.3 163.6 L40.8 158.1 L51.8 152.6 L64.2 149.1 L73.9 148.4 L78.0 149.8 L80.1 137.4 L82.2 123.6 L84.2 107.0 L79.4 94.3 L76.7 88.8 L76.7 79.1 L86.3 77.0 L87.7 74.3 L78.7 72.2 L78.7 63.2 L82.2 62.6 L101.5 62.6 L102.9 59.8 L109.8 59.1 L113.9 57.0 L118.0 61.2 L120.8 69.4 L126.3 75.0 L133.2 77.0 L140.1 73.6 L141.5 77.7 L151.1 70.8 L158.0 66.7 L162.2 61.2 L170.4 57.0 L163.6 52.9 L160.8 40.5 L156.7 33.6 L151.8 27.4 L159.4 30.1 L166.3 32.2 L176.0 31.5 L178.7 35.7 L181.5 30.8 L187.0 28.8 L198.0 26.7 L204.9 21.2 L210.4 18.4 L211.8 14.3 L218.7 12.9 L220.1 19.8 L224.2 23.9 L224.9 30.8 L221.5 40.5 L220.1 48.8 L222.9 58.4 L227.0 63.9 L227.0 65.3 L233.9 70.1 L243.6 65.3 L256.0 60.5 L267.0 59.1 L275.3 59.8 L277.3 53.6 L287.7 52.2 L291.8 51.5 L296.0 54.3 L300.1 55.0 L309.8 54.3 L319.4 55.7 L324.9 50.1 L329.1 41.9 L334.6 33.6 L341.5 26.7 L347.0 33.6 L349.8 44.6 L353.9 55.7 L362.2 61.2 L364.2 66.7 L359.4 79.1 L364.9 84.6 L373.2 88.8 L385.6 92.2 L384.2 99.8 L388.4 98.4 L399.4 97.0 L411.8 101.2 L420.1 103.9 L424.6 107.0 L434.2 107.7 L439.8 113.9 L442.5 122.2 L438.4 129.1 L437.0 133.9 L443.9 125.7 L450.8 123.6 L456.3 121.5 L466.0 125.7 L474.2 128.4 L485.3 129.1 L499.1 127.7 L507.3 130.5 L515.6 135.3 L525.3 141.5 L534.9 149.8 L543.2 156.0 L550.1 159.4 L562.5 160.1 L570.8 162.2 L574.2 170.5 L576.3 178.8 L578.4 189.8 L579.1 200.8 L579.1 193.6 L577.7 203.2 L573.6 212.9 L568.0 223.9 L561.1 232.2 L552.9 240.5 L544.6 249.9 L512.0 296.0 L477.0 366.0 L448.0 416.0 L448.7 414.8 L441.8 418.9 L433.6 423.0 L429.4 428.2 L421.1 429.2 L412.9 433.4 L404.6 437.5 L396.3 441.7 L390.1 446.8 L386.0 452.0 L381.8 460.3 L382.1 468.8 L385.3 479.8 L381.8 490.8 L374.9 497.7 L368.0 501.9 L362.5 510.1 L358.4 518.4 L354.2 526.7 L348.7 535.0 L340.4 541.9 L332.2 546.0 L328.0 552.9 L322.5 561.2 L314.2 568.1 L312.2 568.8 L311.5 562.6 L316.3 555.7 L312.2 548.8 L306.0 543.2 L296.3 537.7 L288.0 532.2 L278.4 530.0 L273.2 525.7 L269.1 520.5 L264.9 517.4 L254.1 519.4 L258.7 513.2 L266.0 506.0 L272.2 498.8 L278.4 491.5 L286.7 485.3 L294.9 480.1 L304.2 476.0 L309.4 473.9 L309.4 462.6 L307.9 456.3 L304.2 451.7 L297.0 452.2 L300.1 443.9 L301.7 431.5 L299.1 427.4 L291.8 430.5 L284.6 429.4 L283.0 417.0 L281.5 409.8 L278.4 405.7 L270.1 403.6 L267.0 405.1 L257.7 404.6 L248.9 403.1 L248.9 392.2 L250.4 386.0 L248.4 383.7 L248.4 369.2 L253.6 352.7 L253.6 340.3 L243.2 332.0 L243.2 321.2 L217.3 319.2 L216.0 298.0 L214.6 288.1 L210.4 282.6 L202.2 281.2 L192.5 280.5 L182.9 272.9 L173.2 268.8 L164.9 266.0 L155.3 263.2 L147.0 256.3 L143.6 248.1 L142.2 238.4 L141.5 230.1 L137.3 228.1 L129.1 228.8 L120.8 232.9 L109.8 239.8 L101.5 242.6 L96.0 246.0 L83.6 245.3 L67.7 244.6 L67.0 223.2 L57.3 230.1 L46.3 230.1 L43.6 223.2 L31.1 222.6 L33.9 219.1 L31.1 213.6 L27.0 206.7 L19.8 196.1" fill="none" stroke="#111" stroke-width="2.0" stroke-linejoin="round"/>
<path d="M2.2 305.7 L23.9 319.2 L48.7 332.0 L48.7 332.0 L59.1 340.3 L68.4 347.5 L72.5 350.6 L74.6 373.4 L75.6 394.1 L73.6 414.8 L68.4 418.9 L69.4 431.3 L69.4 447.9 L66.3 466.5 L67.3 456.7 L63.2 477.4 L56.0 498.1 L58.0 514.6 L52.9 527.0 L56.0 547.7 L52.9 562.2 L47.7 576.7 L44.6 590.1" fill="none" stroke="#111" stroke-width="1.0" stroke-linejoin="round"/>
<path d="M260.8 1.2 L278.4 3.9 L297.0 3.2 L305.3 5.3 L317.7 10.5 L328.0 16.7 L335.3 22.9" fill="none" stroke="#111" stroke-width="1.0" stroke-linejoin="round"/>
<path d="M312.9 568.8 L308.7 575.0 L300.4 581.2 L288.0 585.3 L275.6 586.3 L259.1 584.3 L248.7 581.2 L241.5 579.1 L246.7 583.7 L258.0 589.4" fill="none" stroke="#111" stroke-width="1.1" stroke-linejoin="round"/>
<path d="M242.2 574.6 L245.3 580.8 L258.7 590.1" fill="none" stroke="#111" stroke-width="1.0" stroke-linejoin="round"/>
<path d="M362.1 73.0 L359.1 77.4 L355.4 83.3 L350.2 88.5 L346.5 94.4 L342.9 98.8" fill="none" stroke="#0c0c1a" stroke-width="4.2" stroke-linejoin="round" stroke-linecap="round"/>
<path d="M342.9 98.8 L338.4 104.0 L331.8 107.7 L324.4 109.9" fill="none" stroke="#0c0c1a" stroke-width="2.6" stroke-linejoin="round" stroke-linecap="round"/>
<path d="M334.7 107.0 L328.1 108.8 L325.1 110.3" fill="none" stroke="#0c0c1a" stroke-width="3.4" stroke-linejoin="round" stroke-linecap="round"/>
<path d="M356.9 89.2 L358.4 85.5 L364.3 84.1 L368.7 87.8 L374.6 89.2 L379.8 90.7 L385.7 92.2 L385.0 97.4 L382.0 103.3 L378.3 109.2 L373.1 112.9 L365.0 114.4 L356.9 112.1 L351.7 107.7 L352.5 100.3 L353.9 94.4 L356.9 89.2" fill="none" stroke="#0c0c1a" stroke-width="1.8" stroke-linejoin="round"/>
<path d="M364.3 84.1 L368.0 82.6 L368.7 87.8 L371.7 86.3 L374.6 89.2" fill="none" stroke="#0c0c1a" stroke-width="2.2" stroke-linejoin="round"/>
<path d="M350.2 88.5 L351.7 97.4 L349.5 103.3 L351.7 107.7" fill="none" stroke="#0c0c1a" stroke-width="1.8"/>
<path d="M385.7 100.3 L383.5 106.2 L382.0 110.7 L378.3 109.2" fill="none" stroke="#0c0c1a" stroke-width="2"/>
<path d="M338.4 104.0 L339.2 97.4 L342.9 98.8" fill="none" stroke="#0c0c1a" stroke-width="1.6"/>
<text x="17" y="575.2" font-family="Liberation Sans, sans-serif" font-weight="bold" font-size="16.4" letter-spacing="0.47" fill="#141414">USDA-FAS-OGA</text>
</svg></div>
<div class="abs" id="legend">
<div class="ttl">Decadal Percent of<br>Normal (%)</div>
<div class="sw" style="top:101px;background:#1d78b5"></div><div class="lb" style="top:96px">&gt; 200</div>
<div class="sw" style="top:126.6px;background:#87cefa"></div><div class="lb" style="top:121.6px">150 - 200</div>
<div class="sw" style="top:152.2px;background:#3aa611"></div><div class="lb" style="top:147.2px">125 - 150</div>
<div class="sw" style="top:177.8px;background:#b5e600"></div><div class="lb" style="top:172.8px">100 - 125</div>
<div class="sw" style="top:203.4px;background:#ffff66"></div><div class="lb" style="top:198.4px">75 - 100</div>
<div class="sw" style="top:229px;background:#cdbb82"></div><div class="lb" style="top:224px">50 - 75</div>
<div class="sw" style="top:254.6px;background:#8c6d46"></div><div class="lb" style="top:249.6px">&lt;= 50</div>
<div class="sw" style="top:280.2px;background:#fff"></div><div class="lb" style="top:275.2px">No Data</div>
</div>
<div class="abs" id="foot">© 2015 Munich Re</div>
<div class="abs" id="pg">16</div>
</body></html>
